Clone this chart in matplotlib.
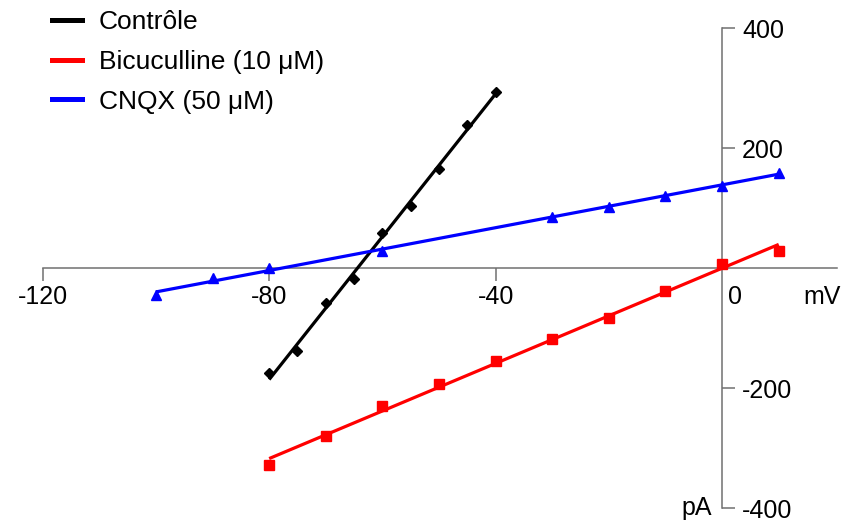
import numpy as np
import matplotlib
matplotlib.use("Agg")
import matplotlib.pyplot as plt
from matplotlib.lines import Line2D

plt.rcParams['font.family'] = ['Liberation Sans', 'DejaVu Sans']

# Data (mV, pA)
ctrl_v = [-80, -75, -70, -65, -60, -55, -50, -45, -40]
ctrl_i = [-175.5, -137.8, -57.8, -18.3, 58.8, 103.3, 165.5, 238.8, 292.8]

bic_v = [-80, -70, -60, -50, -40, -30, -20, -10, 0, 10]
bic_i = [-328, -280, -230, -193.8, -155, -118.8, -82.8, -37.8, 6, 28.8]

cnqx_v = [-100, -90, -80, -60, -30, -20, -10, 0, 10]
cnqx_i = [-45, -17.2, -0.5, 28.8, 85.5, 101, 120.5, 137.2, 158.8]

labels = ["Contrôle", "Bicuculline (10 μM)", "CNQX (50 μM)"]
colors = ["black", "#ff0000", "#0000ff"]
markers = ["D", "s", "^"]
msizes = [5.6, 6.5, 7]

xticks = [-120, -80, -40]
yticks = [-400, -200, 200, 400]

W, H = 843, 523
fig = plt.figure(figsize=(W / 100, H / 100), dpi=100)
ax = fig.add_axes([42.7 / W, 1 - 508 / H, (836.7 - 42.7) / W, (508 - 28) / H])
ax.set_xlim(-120, (836.7 - 722) / 5.667)
ax.set_ylim(-400, 400)

series = [(ctrl_v, ctrl_i), (bic_v, bic_i), (cnqx_v, cnqx_i)]
for (v, i), c, m, ms in zip(series, colors, markers, msizes):
    v = np.asarray(v, float)
    i = np.asarray(i, float)
    k, b = np.polyfit(v, i, 1)
    xs = np.array([v.min(), v.max()])
    ax.plot(xs, k * xs + b, color=c, lw=2.3, zorder=3, solid_capstyle='butt')
    ax.plot(v, i, linestyle='none', marker=m, ms=ms, color=c, mec=c, zorder=4)

axcol = '#707070'
for s in ['top', 'left']:
    ax.spines[s].set_visible(False)
ax.spines['bottom'].set_position(('data', 0))
ax.spines['right'].set_position(('data', 0))
for s in ['bottom', 'right']:
    ax.spines[s].set_color(axcol)
    ax.spines[s].set_linewidth(1.1)

ax.yaxis.tick_right()
ax.set_xticks(xticks)
ax.set_xticklabels([str(t) for t in xticks])
ax.set_yticks(yticks)
ax.set_yticklabels([str(t) for t in yticks])
ax.tick_params(axis='x', direction='out', length=9.4, width=1.1, color=axcol,
               labelsize=18, pad=2.6)
ax.tick_params(axis='y', direction='out', length=9.4, width=1.1, color=axcol,
               labelsize=18, pad=5)

ax.annotate("0", xy=(2.3, 0), xytext=(0, -12), textcoords='offset points',
            ha='center', va='top', fontsize=18)
ax.annotate("mV", xy=((803 - 722) / 5.667, 0), xytext=(0, -12), textcoords='offset points',
            ha='left', va='top', fontsize=18)
ax.annotate("pA", xy=(0, -400), xytext=(-7.5, 0), textcoords='offset points',
            ha='right', va='center', fontsize=18)

handles = [Line2D([0], [0], color=c, lw=3.6) for c in colors]
fig.legend(handles, labels, loc='upper left', bbox_to_anchor=(52 / W, 1 - 10 / H),
           frameon=False, fontsize=19, handlelength=30 / 26.4, handletextpad=17 / 26.4,
           labelspacing=0.6, borderpad=0, borderaxespad=0)

fig.savefig("out.png", dpi=100)
